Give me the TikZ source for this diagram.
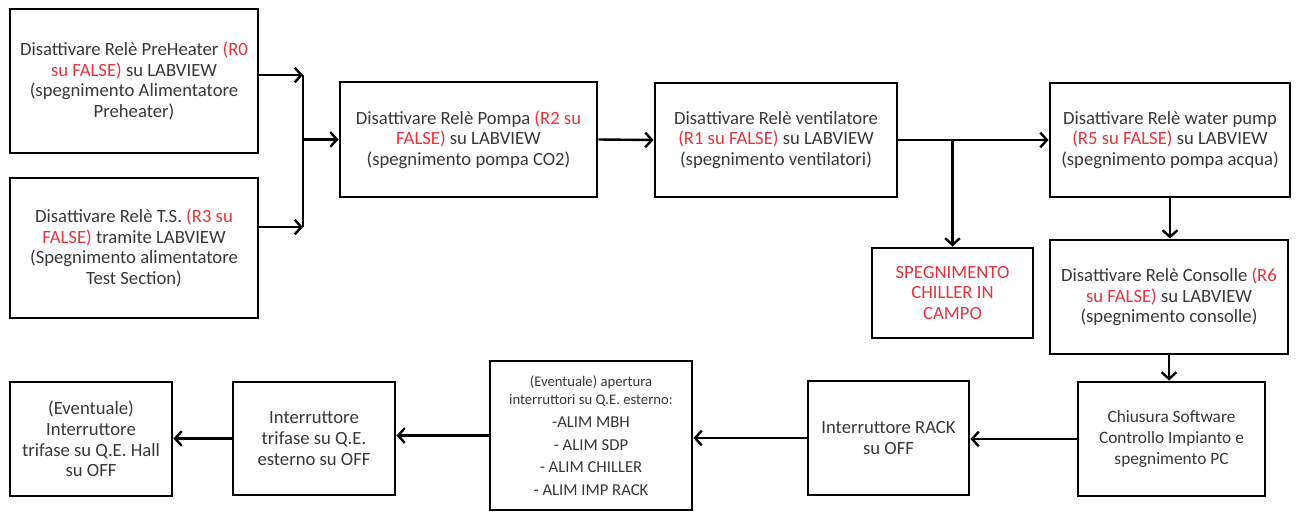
\documentclass[tikz,border=0pt]{standalone}
\usepackage{fontspec}
\setmainfont{Carlito}
\usetikzlibrary{arrows.meta}
\definecolor{myred}{RGB}{228,52,62}
\definecolor{mytext}{RGB}{55,55,55}
\newcommand{\biglin}{\fontsize{12.5}{17}\selectfont}

\tikzset{
    box/.style 2 args={draw=black, line width=2.2pt, minimum width=#1*0.75pt,
        minimum height=#2*0.75pt, align=center, inner sep=0pt, text=mytext,
        font=\fontsize{14}{15.5}\selectfont},
    arr/.style={line width=1.8pt, -{Straight Barb[length=5pt,width=11pt,line width=1.8pt]}},
    wire/.style={line width=1.8pt}
}

\begin{document}
\begin{tikzpicture}[x=0.75pt, y=-0.75pt]
    \useasboundingbox (0,0) rectangle (1298,514);
    % Top row
    % PreHeater relay
    \node[box={248}{144}] (preheater) at (134, 81)
        {Disattivare Relè PreHeater \textcolor{myred}{(R0}\\ \textcolor{myred}{su FALSE)} su LABVIEW\\ (spegnimento Alimentatore\\ Preheater)};
    % Test section relay
    \node[box={248}{140}] (testsec) at (134, 248)
        {Disattivare Relè T.S. \textcolor{myred}{(R3 su}\\ \textcolor{myred}{FALSE)} tramite LABVIEW\\ (Spegnimento alimentatore\\ Test Section)};
    % Pump relay
    \node[box={257}{115}] (pompa) at (468.5, 139.5)
        {Disattivare Relè Pompa \textcolor{myred}{(R2 su}\\ \textcolor{myred}{FALSE)} su LABVIEW\\ (spegnimento pompa CO2)};
    % Fan relay
    \node[box={242}{114}] (ventil) at (776, 140)
        {Disattivare Relè ventilatore\\ \textcolor{myred}{(R1 su FALSE)} su LABVIEW\\ (spegnimento ventilatori)};
    % Water pump relay
    \node[box={240}{114}] (water) at (1170, 140)
        {Disattivare Relè water pump\\ \textcolor{myred}{(R5 su FALSE)} su LABVIEW\\ (spegnimento pompa acqua)};
    % Chiller
    \node[box={161}{90}, text=myred] (chiller) at (952.5, 293)
        {SPEGNIMENTO\\ CHILLER IN\\ CAMPO};
    % Console relay
    \node[box={238}{114}] (consolle) at (1169, 297)
        {Disattivare Relè Consolle \textcolor{myred}{(R6}\\ \textcolor{myred}{su FALSE)} su LABVIEW\\ (spegnimento consolle)};
    % Bottom row
    % Software
    \node[box={187}{114}, font=\fontsize{13}{15.5}\selectfont] (software) at (1171.5, 439)
        {Chiusura Software\\ Controllo Impianto e\\ spegnimento PC};
    % Rack switch
    \node[box={161}{114}] (rack) at (888.5, 438)
        {Interruttore RACK\\ su OFF};
    % External switches
    \node[box={202}{149}, font=\fontsize{11}{14}\selectfont] (esterni) at (591, 435.5)
        {(Eventuale) apertura\\ interruttori su Q.E. esterno:\\[3pt]
         \biglin -ALIM MBH\\[3pt] \biglin - ALIM SDP\\[3pt] \biglin - ALIM CHILLER\\[3pt] \biglin - ALIM IMP RACK};
    % Three-phase switch
    \node[box={162}{113}] (trifase) at (314, 438.5)
        {Interruttore\\ trifase su Q.E.\\ esterno su OFF};
    % Hall switch
    \node[box={162}{114}] (hall) at (91, 439)
        {(Eventuale)\\ Interruttore\\ trifase su Q.E. Hall\\ su OFF};

    % Connectors
    \coordinate (jtop) at (303, 75);
    \coordinate (jbot) at (303, 227);
    \draw[arr] (preheater.east |- jtop) -- (jtop);
    \draw[arr] (testsec.east |- jbot) -- (jbot);
    \draw[wire] (jtop) -- (jbot);
    \draw[arr] (jtop |- pompa.west) -- (pompa.west);
    \draw[arr] (pompa.east) -- (ventil.west);
    \draw[arr] (ventil.east) -- (water.west);
    \draw[arr] (ventil.east -| chiller.north) -- (chiller.north);
    \draw[arr] (water.south) -- (water.south |- consolle.north);
    \draw[arr] (consolle.south) -- (consolle.south |- software.north);
    \draw[arr] (software.west) -- (software.west -| rack.east);
    \draw[arr] (rack.west) -- (rack.west -| esterni.east);
    \draw[arr] (esterni.west) -- (esterni.west -| trifase.east);
    \draw[arr] (trifase.west) -- (trifase.west -| hall.east);
\end{tikzpicture}
\end{document}
